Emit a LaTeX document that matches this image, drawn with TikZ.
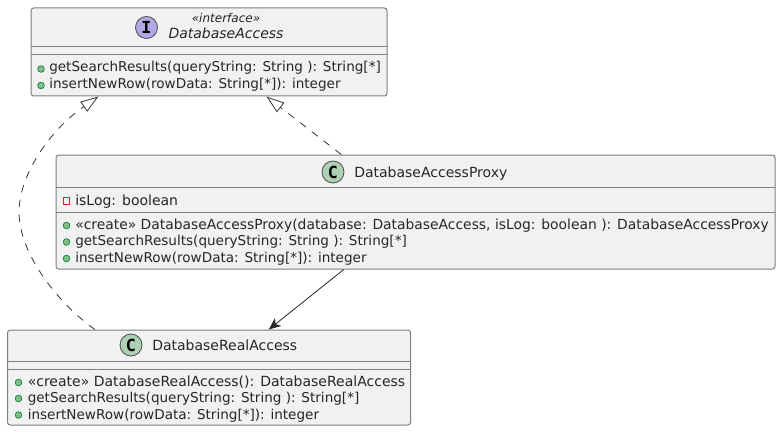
\documentclass[tikz,border=0pt]{standalone}
\usepackage{fontspec}
\setmainfont{DejaVu Sans}
\newfontfamily\spotfont{DejaVu Sans Mono}
\usetikzlibrary{arrows.meta}
\definecolor{boxfill}{HTML}{F1F1F1}
\definecolor{boxline}{HTML}{7F7F7F}
\definecolor{spotI}{HTML}{B4A7E5}
\definecolor{spotC}{HTML}{ADD1B2}
\definecolor{pubfill}{HTML}{84BE84}
\definecolor{publine}{HTML}{038048}
\definecolor{privline}{HTML}{C82930}
\tikzset{
  classbox/.style={draw=boxline,fill=boxfill,line width=0.75pt,rounded corners=2pt,inner sep=0pt},
  sepline/.style={draw=boxline,line width=0.75pt},
  spotnode/.style={circle,draw=black!70,line width=0.6pt,minimum size=16.5pt,inner sep=0pt,font=\spotfont\bfseries\fontsize{12.5}{12.5}\selectfont},
  member/.style={anchor=base west,inner sep=0pt,font=\fontsize{10.5}{12}\selectfont,text=black!85},
  tight/.style={font=\fontsize{10.18}{12}\selectfont},
  title/.style={anchor=base west,inner sep=0pt,font=\fontsize{10.5}{12}\selectfont,text=black!85},
  pubdot/.style={circle,draw=publine,fill=pubfill,line width=0.5pt,minimum size=5pt,inner sep=0pt},
  privbox/.style={rectangle,draw=privline,line width=0.6pt,minimum size=5pt,inner sep=0pt},
  realize/.style={dashed,dash pattern=on 5.6pt off 5.6pt,draw=black!75,line width=0.65pt,-{Triangle[open,length=13.5pt,width=9pt]}},
  uses/.style={draw=black!85,line width=0.6pt,-{Stealth[length=9pt,width=7.5pt,inset=2.5pt]}}
}
\begin{document}
\begin{tikzpicture}[x=0.75pt,y=-0.75pt]
\useasboundingbox (0,0) rectangle (780,431);
%boxes:
\node[classbox,minimum width=267pt,minimum height=66pt] (dbAccess) at (209,52) {};
\node[classbox,minimum width=539.25pt,minimum height=85.5pt] (dbProxy) at (415.5,212) {};
\node[classbox,minimum width=302.25pt,minimum height=71.25pt] (dbReal) at (209,377.5) {};
%separators:
\foreach \ya in {47,55} \draw[sepline] (31,\ya) -- (387,\ya);
\foreach \ya in {187,212} \draw[sepline] (56,\ya) -- (775,\ya);
\foreach \ya in {361,369} \draw[sepline] (7.5,\ya) -- (410,\ya);
%headers:
\node[spotnode,fill=spotI] (spotAccess) at (146.5,27.5) {I};
\node[anchor=base,inner sep=0pt,font=\itshape\fontsize{9}{11}\selectfont,text=black!85] (stereoAccess) at (226,23) {«interface»};
\node[anchor=base,inner sep=0pt,font=\itshape\fontsize{10.5}{12}\selectfont,text=black!85] (nameAccess) at (226,39) {DatabaseAccess};
\node[spotnode,fill=spotC] (spotProxy) at (333,172) {C};
\node[title] (nameProxy) at (354,177) {DatabaseAccessProxy};
\node[spotnode,fill=spotC] (spotReal) at (131,345) {C};
\node[title] (nameReal) at (152,350) {DatabaseRealAccess};
%members top:
\node[pubdot] (dotA) at (41,69) {};
\node[member,tight] (getA) at (49,72) {getSearchResults(queryString: String ): String[*]};
\node[pubdot] (dotB) at (41,85.5) {};
\node[member,tight] (insA) at (49,88.5) {insertNewRow(rowData: String[*]): integer};
%members proxy:
\node[privbox] (dotC) at (66.5,201) {};
\node[member] (logP) at (75,205) {isLog: boolean};
\node[pubdot] (dotD) at (66.5,225.5) {};
\node[member,font=\fontsize{10.4}{12}\selectfont] (newP) at (75,229) {«create» DatabaseAccessProxy(database: DatabaseAccess, isLog: boolean ): DatabaseAccessProxy};
\node[pubdot] (dotE) at (66.5,242) {};
\node[member,tight] (getP) at (75,245.5) {getSearchResults(queryString: String ): String[*]};
\node[pubdot] (dotF) at (66.5,258.5) {};
\node[member,tight] (insP) at (75,262) {insertNewRow(rowData: String[*]): integer};
%members real:
\node[pubdot] (dotG) at (18.5,382.5) {};
\node[member] (newR) at (27.5,386) {«create» DatabaseRealAccess(): DatabaseRealAccess};
\node[pubdot] (dotH) at (18.5,398.5) {};
\node[member,tight] (getR) at (27.5,402.5) {getSearchResults(queryString: String ): String[*]};
\node[pubdot] (dotI) at (18.5,415) {};
\node[member,tight] (insR) at (27.5,419) {insertNewRow(rowData: String[*]): integer};
%relations:
\draw[realize] (dbProxy) -- (dbAccess);
\draw[uses] (dbProxy) -- (dbReal);
\draw[realize] ([xshift=66pt]dbReal.north west) .. controls (60,305) and (19,255) .. (19,212) .. controls (19,175) and (50,130) .. ([xshift=51pt]dbAccess.south west);
\end{tikzpicture}
\end{document}
